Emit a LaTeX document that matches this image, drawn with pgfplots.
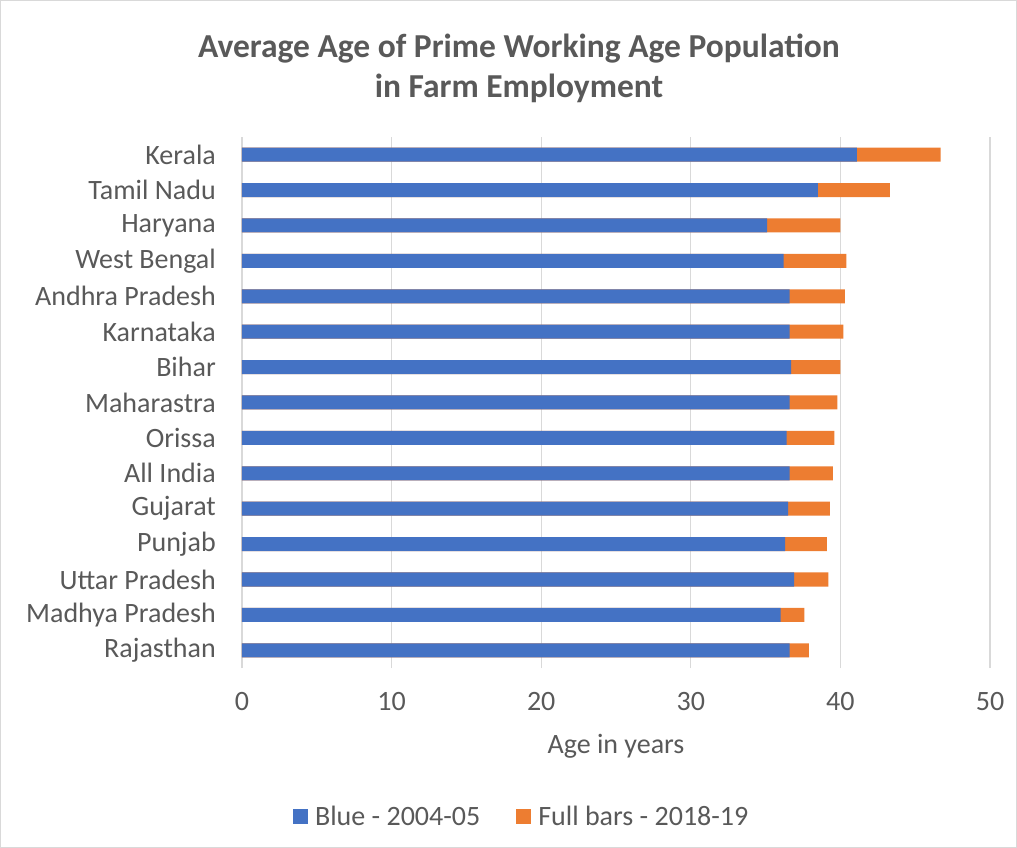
\documentclass[border=0pt]{standalone}
\usepackage{pgfplots}
\pgfplotsset{compat=1.18}
\usepackage{fontspec}
\setmainfont{Carlito}
\definecolor{cblue}{HTML}{4472C4}
\definecolor{corange}{HTML}{ED7D31}
\definecolor{ctext}{HTML}{595959}
\definecolor{cgrid}{HTML}{D9D9D9}
\begin{document}
\begin{tikzpicture}
\useasboundingbox (-242pt,-180pt) rectangle (775pt,668pt);
\draw[cgrid, line width=1pt] (-241.5pt,-179.5pt) rectangle (774.5pt,667.5pt);
\begin{axis}[
  at={(0pt,0pt)}, anchor=south west,
  width=748pt, height=531pt, scale only axis,
  xmin=0, xmax=50, ymin=-0.5, ymax=14.5,
  xtick={0,10,20,30,40,50},
  ytick={0,...,14},
  yticklabels={Rajasthan,Madhya Pradesh,Uttar Pradesh,Punjab,Gujarat,All India,Orissa,Maharastra,Bihar,Karnataka,Andhra Pradesh,West Bengal,Haryana,Tamil Nadu,Kerala},
  axis line style={draw=none},
  major tick length=0pt,
  xmajorgrids, grid style={cgrid, line width=1.2pt},
  /pgf/number format/assume math mode=true,
  tick label style={font=\fontsize{28}{30}\selectfont, text=ctext, inner sep=0pt},
  yticklabel style={anchor=east, xshift=-26pt},
  xticklabel style={anchor=north, yshift=-24pt},
  xlabel={Age in years},
  xlabel style={font=\fontsize{28}{30}\selectfont, text=ctext, at={(axis description cs:0.5,0)}, anchor=center, yshift=-78pt},
  xbar, bar width=14pt, bar shift=0pt,
  legend columns=2,
  legend style={draw=none, fill=none, at={(0.374,-0.279)}, anchor=center,
    font=\fontsize{28}{30}\selectfont, text=ctext,
    /tikz/every even column/.append style={column sep=34pt}},
  legend image code/.code={\fill[#1] (0pt,-7.5pt) rectangle (15pt,7.5pt);},
]
\addlegendimage{fill=cblue, draw=none}
\addlegendentry{\hspace{5pt}Blue - 2004-05}
\addlegendimage{fill=corange, draw=none}
\addlegendentry{\hspace{5pt}Full bars - 2018-19}
\addplot[fill=corange, draw=none, forget plot] coordinates {
(37.9,0) (37.6,1) (39.2,2) (39.1,3) (39.3,4) (39.5,5) (39.6,6) (39.8,7)
(40.0,8) (40.2,9) (40.3,10) (40.4,11) (40.0,12) (43.3,13) (46.7,14)};
\addplot[fill=cblue, draw=none, forget plot] coordinates {
(36.6,0) (36.0,1) (36.9,2) (36.3,3) (36.5,4) (36.6,5) (36.4,6) (36.6,7)
(36.7,8) (36.6,9) (36.6,10) (36.2,11) (35.1,12) (38.5,13) (41.1,14)};
\end{axis}
\node[font=\bfseries\fontsize{33.5}{40}\selectfont, text=ctext, align=center] at (277pt,600pt)
  {Average Age of Prime Working Age Population\\in Farm Employment};
\end{tikzpicture}
\end{document}
